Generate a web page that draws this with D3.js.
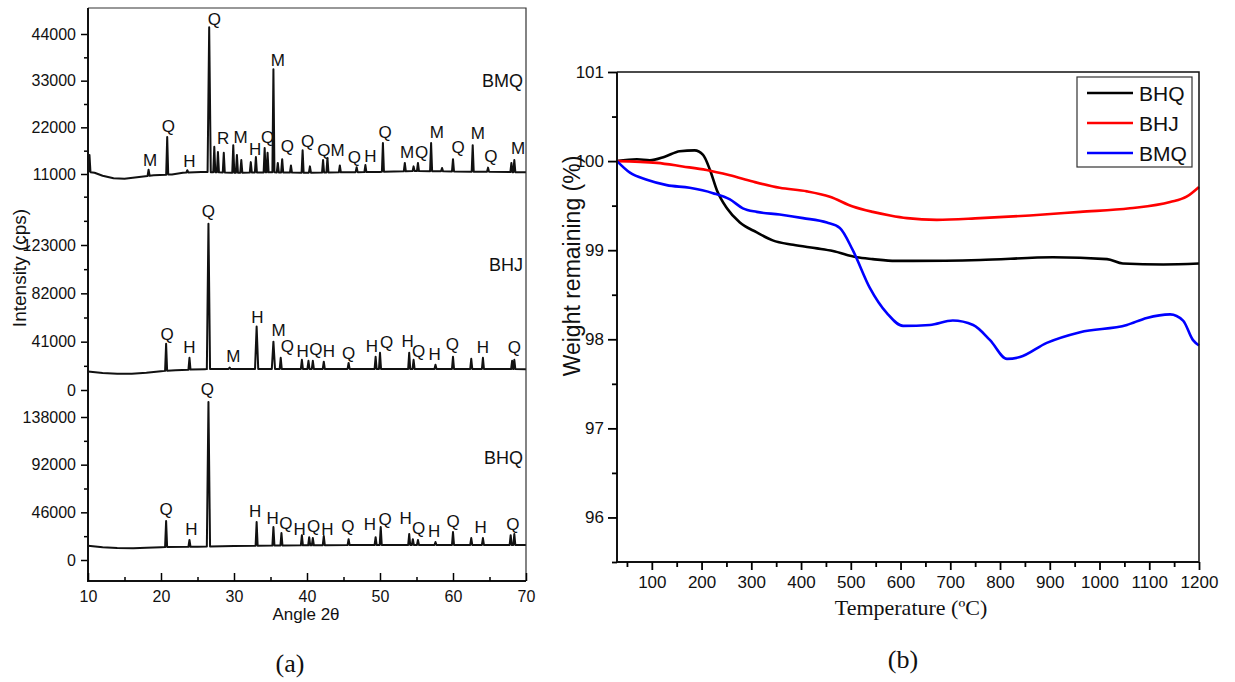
<!DOCTYPE html>
<html>
<head>
<meta charset="utf-8">
<script src="https://cdn.jsdelivr.net/npm/d3@7"></script>
<style>
  body { margin: 0; background: #fff; }
  text { font-family: "Liberation Sans", Arial, sans-serif; fill: #111; }
</style>
</head>
<body>
<script>
// ---------- (a) XRD data: angle 2θ, intensity (cps) ----------
const angleTicks = [10, 20, 30, 40, 50, 60, 70];
const angleMinor = [15, 25, 35, 45, 55, 65];

const bmqBaseline = [[10, 11500], [10.9, 11300], [12, 10600], [13.5, 10000], [15, 9900], [17, 10300], [19, 10700],
  [21.5, 10900], [23, 11300], [25.5, 11500], [30, 11300], [35, 11400], [40, 11300], [45, 11400], [50, 11500],
  [55, 11700], [60, 11600], [65, 11500], [70, 11400]];
const bmqPeaks = [[10.2, 15500], [18.3, 12000], [20.85, 19700], [23.6, 11900], [26.6, 45600], [27.3, 17400], [27.8, 16200],
  [28.6, 16000], [29.9, 17800], [30.4, 15500], [31.0, 14300], [32.3, 13800], [33.0, 15000], [34.2, 17100], [34.6, 16000],
  [35.4, 35700], [36.0, 13600], [36.6, 14500], [37.8, 13000], [39.4, 16600], [40.4, 12800], [42.2, 14300], [42.8, 14800],
  [44.5, 13000], [46.8, 12600], [48.0, 13100], [50.4, 18300], [53.4, 13600], [54.6, 12800], [55.2, 13600], [57.0, 18300],
  [58.5, 12400], [60.0, 14500], [62.7, 17800], [64.8, 12500], [68.0, 13600], [68.4, 14300]];
const bmqLabels = [["M", 18.5, 12900], ["Q", 21.0, 20900], ["H", 23.9, 12650], ["Q", 27.3, 46100], ["R", 28.5, 18100],
  ["M", 30.9, 18300], ["H", 32.9, 15500], ["Q", 34.6, 18300], ["M", 36.0, 36400], ["Q", 37.3, 16200], ["Q", 40.1, 17400],
  ["Q", 42.3, 15200], ["M", 44.2, 15200], ["Q", 46.5, 13600], ["H", 48.7, 13800], ["Q", 50.7, 19500], ["M", 53.7, 14800],
  ["Q", 55.7, 14800], ["M", 57.8, 19500], ["Q", 60.7, 16000], ["M", 63.4, 19200], ["Q", 65.2, 13800], ["M", 68.9, 15800]];

const bhjBaseline = [[10, 15600], [12, 14400], [14, 13700], [16, 13700], [18, 14600], [20, 16000], [22, 16800],
  [24, 17300], [26, 17700], [30, 17900], [40, 17900], [50, 17900], [60, 17900], [70, 17700]];
const bhjPeaks = [[20.7, 39300], [23.9, 27300], [26.5, 141000], [29.4, 19000], [33.1, 53800], [35.4, 41000], [36.4, 27300],
  [39.3, 25600], [40.2, 24800], [40.8, 24800], [42.3, 24000], [45.7, 23000], [49.4, 28200], [50.0, 31600], [54.0, 31600],
  [54.6, 25600], [57.6, 21400], [60.0, 28200], [62.5, 26500], [64.1, 27300], [68.1, 24800], [68.4, 25600]];
const bhjLabels = [["Q", 20.85, 42700], ["H", 23.9, 31600], ["Q", 26.5, 146900], ["M", 29.9, 23900], ["H", 33.2, 57200],
  ["M", 36.1, 46100], ["Q", 37.3, 32500], ["H", 39.4, 28200], ["Q", 41.2, 29900], ["H", 43.0, 28200], ["Q", 45.7, 26500],
  ["H", 48.9, 32500], ["Q", 50.9, 35900], ["H", 53.8, 36700], ["Q", 55.3, 28200], ["H", 57.5, 25600], ["Q", 59.9, 34200],
  ["H", 64.1, 31600], ["Q", 68.4, 31600]];

const bhqBaseline = [[10, 13800], [12, 12300], [14, 11500], [16.2, 11300], [18, 11800], [20, 12400], [25, 12900],
  [30, 13600], [40, 14200], [50, 14500], [60, 14500], [70, 14500]];
const bhqPeaks = [[20.7, 37600], [23.9, 19300], [26.5, 152500], [33.1, 36700], [35.4, 31800], [36.5, 26000], [39.3, 24000],
  [40.3, 22000], [40.8, 21200], [42.3, 23100], [45.7, 20000], [49.4, 22000], [50.1, 31800], [54.0, 25000], [54.5, 20000],
  [55.2, 19300], [57.6, 17400], [60.0, 27000], [62.5, 21200], [64.1, 21200], [67.9, 24000], [68.4, 25000]];
const bhqLabels = [["Q", 20.7, 43400], ["H", 24.15, 24100], ["Q", 26.35, 159200], ["H", 32.9, 41500], ["H", 35.3, 34700],
  ["Q", 37.1, 29900], ["H", 39.0, 24100], ["Q", 40.9, 27000], ["H", 42.8, 24100], ["Q", 45.6, 27000], ["H", 48.6, 29000],
  ["Q", 50.7, 33800], ["H", 53.5, 34700], ["Q", 55.3, 25100], ["H", 57.4, 22200], ["Q", 60.0, 31800], ["H", 63.8, 26100],
  ["Q", 68.2, 29000]];

const bmqTicks = [11000, 22000, 33000, 44000];
const bmqMinor = [16500, 27500, 38500];
const bhjTicks = [0, 41000, 82000, 123000];
const bhjMinor = [20500, 61500, 102500, 143500, 164000];
const bhqTicks = [0, 46000, 92000, 138000];
const bhqMinor = [23000, 69000, 115000];

// ---------- (b) TGA data: temperature (°C), weight remaining (%) ----------
const tempTicks = [100, 200, 300, 400, 500, 600, 700, 800, 900, 1000, 1100, 1200];
const tempMinor = [50, 150, 250, 350, 450, 550, 650, 750, 850, 950, 1050, 1150];
const weightTicks = [96, 97, 98, 99, 100, 101];
const weightMinor = [95.5, 96.5, 97.5, 98.5, 99.5, 100.5];
const tgaNames = ["BHQ", "BHJ", "BMQ"];
const tgaColors = ["#000000", "#ff0000", "#0000ff"];

const tgaBhq = [[30, 100.0], [70, 100.02], [96, 100.01], [126, 100.05], [156, 100.11], [186, 100.12], [203, 100.07],
  [217, 99.90], [231, 99.67], [251, 99.47], [277, 99.31], [311, 99.20], [343, 99.11], [384, 99.06], [432, 99.02],
  [464, 98.99], [512, 98.92], [544, 98.90], [590, 98.88], [625, 98.88], [760, 98.89], [906, 98.92], [1015, 98.90],
  [1047, 98.85], [1128, 98.84], [1200, 98.85]];
const tgaBhj = [[30, 100.0], [110, 99.98], [162, 99.94], [210, 99.90], [257, 99.84], [303, 99.77], [357, 99.70],
  [412, 99.66], [458, 99.60], [504, 99.49], [544, 99.43], [579, 99.39], [613, 99.36], [673, 99.34], [760, 99.36],
  [860, 99.39], [961, 99.43], [1061, 99.47], [1142, 99.54], [1175, 99.60], [1200, 99.71]];
const tgaBmq = [[30, 100.0], [56, 99.87], [90, 99.79], [130, 99.73], [176, 99.70], [223, 99.64], [257, 99.57],
  [283, 99.47], [311, 99.43], [357, 99.40], [404, 99.36], [452, 99.31], [478, 99.25], [504, 99.00], [538, 98.58],
  [573, 98.29], [605, 98.15], [659, 98.16], [705, 98.21], [746, 98.16], [780, 97.99], [814, 97.78], [840, 97.80],
  [894, 97.96], [961, 98.08], [1055, 98.16], [1095, 98.24], [1142, 98.28], [1168, 98.21], [1188, 97.99], [1200, 97.93]];

const svg = d3.select("body").append("svg")
  .attr("width", 1235)
  .attr("height", 682)
  .style("background", "#fff")

// ================= panel (a) =================
const ax = { left: 88, right: 526, top: 8, bottom: 581 }
const x = d3.scaleLinear().domain([10, 70]).range([ax.left, ax.right])

const panels = [
  { name: "BMQ", base: bmqBaseline, peaks: bmqPeaks, labels: bmqLabels, ticks: bmqTicks, minor: bmqMinor,
    y: d3.scaleLinear().domain([11000, 44000]).range([174, 34]), nameY: 87 },
  { name: "BHJ", base: bhjBaseline, peaks: bhjPeaks, labels: bhjLabels, ticks: bhjTicks, minor: bhjMinor,
    y: d3.scaleLinear().domain([0, 123000]).range([390, 245]), nameY: 271 },
  { name: "BHQ", base: bhqBaseline, peaks: bhqPeaks, labels: bhqLabels, ticks: bhqTicks, minor: bhqMinor,
    y: d3.scaleLinear().domain([0, 138000]).range([560, 417]), nameY: 464 }
]

const gA = svg.append("g")

panels.forEach(p => {
  // baseline lookup (piecewise linear through the read baseline points)
  const baseAt = d3.scaleLinear().domain(p.base.map(d => d[0])).range(p.base.map(d => d[1]))
  let pts = []
  p.peaks.forEach(([a, v]) => {
    const hw = v > 40000 ? 0.22 : 0.14
    pts.push([a - hw, baseAt(a - hw)], [a, v], [a + hw, baseAt(a + hw)])
  })
  p.base.forEach(b => {
    if (!p.peaks.some(([a]) => Math.abs(a - b[0]) < 0.3)) pts.push(b)
  })
  pts = pts.filter(d => d[0] >= 10 && d[0] <= 70).sort((m, n) => m[0] - n[0])

  gA.append("path")
    .datum(pts)
    .attr("fill", "none")
    .attr("stroke", "#111")
    .attr("stroke-width", 2)
    .attr("stroke-linejoin", "round")
    .attr("d", d3.line().x(d => x(d[0])).y(d => p.y(d[1])))

  gA.append("g")
    .selectAll("text")
    .data(p.labels)
    .enter()
    .append("text")
    .attr("x", d => x(d[1]))
    .attr("y", d => p.y(d[2]))
    .attr("text-anchor", "middle")
    .style("font-size", "17px")
    .text(d => d[0])

  gA.append("text")
    .attr("x", 523)
    .attr("y", p.nameY)
    .attr("text-anchor", "end")
    .style("font-size", "18px")
    .text(p.name)

  const yAxis = gA.append("g")
    .attr("transform", `translate(${ax.left},0)`)
    .call(d3.axisLeft(p.y).tickValues(p.ticks).tickSize(7).tickPadding(5).tickFormat(d3.format("d")))
  yAxis.select(".domain").remove()
  yAxis.selectAll("text").style("font-size", "16px").style("font-family", "Liberation Sans, Arial")
  yAxis.selectAll("line").attr("stroke-width", 1.5)

  const yMinor = gA.append("g")
    .attr("transform", `translate(${ax.left},0)`)
    .call(d3.axisLeft(p.y).tickValues(p.minor).tickSize(4).tickFormat(""))
  yMinor.select(".domain").remove()
  yMinor.selectAll("line").attr("stroke-width", 1.5)
})

// frame and axis lines
gA.append("path")
  .attr("d", `M${ax.left},${ax.top}H${ax.right}V${ax.bottom}`)
  .attr("fill", "none").attr("stroke", "#333").attr("stroke-width", 1.2)
gA.append("path")
  .attr("d", `M${ax.left},${ax.top}V${ax.bottom}H${ax.right}`)
  .attr("fill", "none").attr("stroke", "#111").attr("stroke-width", 2)

const xAxisA = gA.append("g")
  .attr("transform", `translate(0,${ax.bottom})`)
  .call(d3.axisBottom(x).tickValues(angleTicks).tickSizeInner(-8).tickSizeOuter(0).tickPadding(10).tickFormat(d3.format("d")))
xAxisA.select(".domain").remove()
xAxisA.selectAll("text").style("font-size", "16px").style("font-family", "Liberation Sans, Arial")
xAxisA.selectAll("line").attr("stroke-width", 1.5)
const xMinorA = gA.append("g")
  .attr("transform", `translate(0,${ax.bottom})`)
  .call(d3.axisBottom(x).tickValues(angleMinor).tickSizeInner(-4).tickSizeOuter(0).tickFormat(""))
xMinorA.select(".domain").remove()
xMinorA.selectAll("line").attr("stroke-width", 1.5)

gA.append("text")
  .attr("x", 306).attr("y", 620)
  .attr("text-anchor", "middle")
  .style("font-size", "17px")
  .text("Angle 2θ")

gA.append("text")
  .attr("transform", "translate(26,268) rotate(-90)")
  .attr("text-anchor", "middle")
  .style("font-size", "19px")
  .text("Intensity (cps)")

gA.append("text")
  .attr("x", 290).attr("y", 672)
  .attr("text-anchor", "middle")
  .style("font-family", "Liberation Serif, Times New Roman, serif")
  .style("font-size", "26px")
  .text("(a)")

// ================= panel (b) =================
const bx = { left: 617, right: 1199, top: 72, bottom: 562 }
const xT = d3.scaleLinear().domain([30, 1200]).range([bx.left, bx.right])
const yW = d3.scaleLinear().domain([95.5, 101]).range([bx.bottom, bx.top])
const gB = svg.append("g")

const tgaSeries = [tgaBhq, tgaBhj, tgaBmq]
const lineT = d3.line().x(d => xT(d[0])).y(d => yW(d[1])).curve(d3.curveMonotoneX)

gB.selectAll("path.tga")
  .data(tgaSeries)
  .enter()
  .append("path")
  .attr("class", "tga")
  .attr("fill", "none")
  .attr("stroke", (d, i) => tgaColors[i])
  .attr("stroke-width", 2.6)
  .attr("d", lineT)

gB.append("path")
  .attr("d", `M${bx.left},${bx.top}H${bx.right}V${bx.bottom}`)
  .attr("fill", "none").attr("stroke", "#111").attr("stroke-width", 1.5)
gB.append("path")
  .attr("d", `M${bx.left},${bx.top}V${bx.bottom}H${bx.right}`)
  .attr("fill", "none").attr("stroke", "#111").attr("stroke-width", 2)

const yAxisB = gB.append("g")
  .attr("transform", `translate(${bx.left},0)`)
  .call(d3.axisLeft(yW).tickValues(weightTicks).tickSize(9).tickPadding(4).tickFormat(d3.format("d")))
yAxisB.select(".domain").remove()
yAxisB.selectAll("text").style("font-size", "17px").style("font-family", "Liberation Sans, Arial")
yAxisB.selectAll("line").attr("stroke-width", 1.8)
const yMinorB = gB.append("g")
  .attr("transform", `translate(${bx.left},0)`)
  .call(d3.axisLeft(yW).tickValues(weightMinor).tickSize(5).tickFormat(""))
yMinorB.select(".domain").remove()
yMinorB.selectAll("line").attr("stroke-width", 1.8)

const xAxisB = gB.append("g")
  .attr("transform", `translate(0,${bx.bottom})`)
  .call(d3.axisBottom(xT).tickValues(tempTicks).tickSize(8).tickSizeOuter(0).tickPadding(6).tickFormat(d3.format("d")))
xAxisB.select(".domain").remove()
xAxisB.selectAll("text").style("font-size", "17px").style("font-family", "Liberation Sans, Arial")
xAxisB.selectAll("line").attr("stroke-width", 1.8)
const xMinorB = gB.append("g")
  .attr("transform", `translate(0,${bx.bottom})`)
  .call(d3.axisBottom(xT).tickValues(tempMinor).tickSize(5).tickSizeOuter(0).tickFormat(""))
xMinorB.select(".domain").remove()
xMinorB.selectAll("line").attr("stroke-width", 1.8)

gB.append("text")
  .attr("transform", "translate(580,266) rotate(-90)")
  .attr("text-anchor", "middle")
  .style("font-size", "23px")
  .text("Weight remaining (%)")

gB.append("text")
  .attr("x", 911).attr("y", 615)
  .attr("text-anchor", "middle")
  .style("font-family", "Liberation Serif, Times New Roman, serif")
  .style("font-size", "22px")
  .text("Temperature (ºC)")

gB.append("text")
  .attr("x", 903).attr("y", 668)
  .attr("text-anchor", "middle")
  .style("font-family", "Liberation Serif, Times New Roman, serif")
  .style("font-size", "26px")
  .text("(b)")

// legend
const legend = gB.append("g").attr("transform", "translate(1077,77)")
legend.append("rect")
  .attr("width", 115).attr("height", 90)
  .attr("fill", "#fff").attr("stroke", "#333").attr("stroke-width", 1.2)
const items = legend.selectAll("g.item")
  .data(tgaNames)
  .enter()
  .append("g")
  .attr("class", "item")
  .attr("transform", (d, i) => `translate(0,${16 + i * 30})`)
items.append("line")
  .attr("x1", 10).attr("x2", 56)
  .attr("stroke", (d, i) => tgaColors[i])
  .attr("stroke-width", 2.6)
items.append("text")
  .attr("x", 62).attr("y", 8)
  .style("font-size", "21px")
  .text(d => d)
</script>
</body>
</html>
